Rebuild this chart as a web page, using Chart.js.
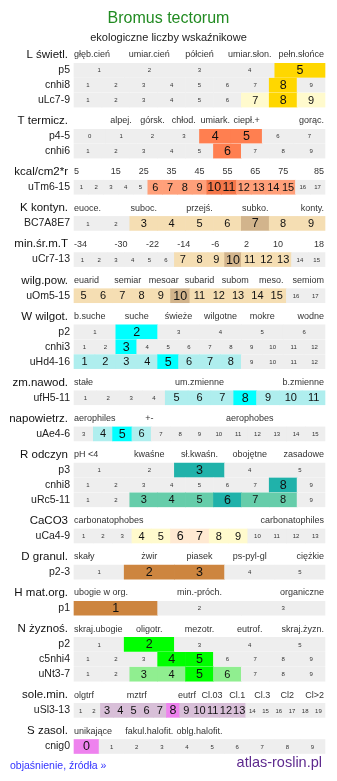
<!DOCTYPE html>
<html lang="pl">
<head>
<meta charset="utf-8">
<title>Bromus tectorum</title>
<script src="https://cdn.jsdelivr.net/npm/chart.js@4.4.1/dist/chart.umd.min.js"></script>
<style>
  html, body { margin: 0; padding: 0; background: #fff; }
  #wrap { width: 337px; height: 781px; }
</style>
</head>
<body>
<div id="wrap"><canvas id="ecoChart" width="337" height="781"></canvas></div>
<script>
/*
  Ekologiczne liczby wskaźnikowe - Bromus tectorum
  kazdy wiersz to pasek komorek (floating bars), podpisy rysuje plugin
*/

const speciesName = "Bromus tectorum";
const chartSubtitle = "ekologiczne liczby wskaźnikowe";

const groupNames = [
    "L świetl.", "T termicz.", "kcal/cm2*r", "K kontyn.", "min.śr.m.T",
    "wilg.pow.", "W wilgot.", "zm.nawod.", "napowietrz.", "R odczyn",
    "CaCO3", "D granul.", "H mat.org.", "N żyznoś.", "sole.min.", "S zasol."
];

// opisy skal nad wierszami ("" = pusta kolumna)
const lightTicks = ["głęb.cień", "umiar.cień", "półcień", "umiar.słon.", "pełn.słońce"];
const tempTicks = ["", "alpej.", "górsk.", "chłod.", "umiark.", "ciepł.+", "", "gorąc."];
const kcalTicks = ["5", "15", "25", "35", "45", "55", "65", "75", "85"];
const contTicks = ["euoce.", "", "suboc.", "", "przejś.", "", "subko.", "", "konty."];
const minTempTicks = ["-34", "-30", "-22", "-14", "-6", "2", "10", "18"];
const aridTicks = ["euarid", "semiar", "mesoar", "subarid", "subom", "meso.", "semiom"];
const moistTicks = ["b.suche", "suche", "świeże", "wilgotne", "mokre", "wodne"];
const waterTicks = ["stałe", "um.zmienne", "b.zmienne"];
const aerTicks = ["aerophiles", "+-", "", "aerophobes", ""];
const phTicks = ["pH <4", "kwaśne", "sł.kwaśn.", "obojętne", "zasadowe"];
const caTicks = ["carbonatophobes", "carbonatophiles"];
const grainTicks = ["skały", "żwir", "piasek", "ps-pyl-gl", "ciężkie"];
const humusTicks = ["ubogie w org.", "min.-próch.", "organiczne"];
const nutrTicks = ["skraj.ubogie", "oligotr.", "mezotr.", "eutrof.", "skraj.żyzn."];
const saltMinTicks = ["olgtrf", "", "mztrf", "", "eutrf", "Cl.03", "Cl.1", "Cl.3", "Cl2", "Cl>2"];
const salinityTicks = ["unikające", "fakul.halofit.", "oblg.halofit.", "", ""];

const groupTicks = [
    lightTicks, tempTicks, kcalTicks, contTicks, minTempTicks, aridTicks,
    moistTicks, waterTicks, aerTicks, phTicks, caTicks, grainTicks,
    humusTicks, nutrTicks, saltMinTicks, salinityTicks
];

// wiersze
const rowNames = [
    "p5", "cnhi8", "uLc7-9", "p4-5", "cnhi6", "uTm6-15", "BC7A8E7", "uCr7-13",
    "uOm5-15", "p2", "cnhi3", "uHd4-16", "ufH5-11", "uAe4-6", "p3", "cnhi8",
    "uRc5-11", "uCa4-9", "p2-3", "p1", "p2", "c5nhi4", "uNt3-7", "uSl3-13", "cnig0"
];
const rowGroup = [0, 0, 0, 1, 1, 2, 3, 4, 5, 6, 6, 6, 7, 8, 9, 9, 9, 10, 11, 12, 13, 13, 13, 14, 15];

const rowCells = [
    [1, 2, 3, 4, 5],
    [1, 2, 3, 4, 5, 6, 7, 8, 9],
    [1, 2, 3, 4, 5, 6, 7, 8, 9],
    [0, 1, 2, 3, 4, 5, 6, 7],
    [1, 2, 3, 4, 5, 6, 7, 8, 9],
    [1, 2, 3, 4, 5, 6, 7, 8, 9, 10, 11, 12, 13, 14, 15, 16, 17],
    [1, 2, 3, 4, 5, 6, 7, 8, 9],
    [1, 2, 3, 4, 5, 6, 7, 8, 9, 10, 11, 12, 13, 14, 15],
    [5, 6, 7, 8, 9, 10, 11, 12, 13, 14, 15, 16, 17],
    [1, 2, 3, 4, 5, 6],
    [1, 2, 3, 4, 5, 6, 7, 8, 9, 10, 11, 12],
    [1, 2, 3, 4, 5, 6, 7, 8, 9, 10, 11, 12],
    [1, 2, 3, 4, 5, 6, 7, 8, 9, 10, 11],
    [3, 4, 5, 6, 7, 8, 9, 10, 11, 12, 13, 14, 15],
    [1, 2, 3, 4, 5],
    [1, 2, 3, 4, 5, 6, 7, 8, 9],
    [1, 2, 3, 4, 5, 6, 7, 8, 9],
    [1, 2, 3, 4, 5, 6, 7, 8, 9, 10, 11, 12, 13],
    [1, 2, 3, 4, 5],
    [1, 2, 3],
    [1, 2, 3, 4, 5],
    [1, 2, 3, 4, 5, 6, 7, 8, 9],
    [1, 2, 3, 4, 5, 6, 7, 8, 9],
    [1, 2, 3, 4, 5, 6, 7, 8, 9, 10, 11, 12, 13, 14, 15, 16, 17, 18, 19],
    [0, 1, 2, 3, 4, 5, 6, 7, 8, 9]
];

// wartosc glowna (ciemne pole)
const rowMain = [
    [5], [8], [8], [4, 5], [6], [10, 11], [7], [10], [10], [2], [3], [5],
    [8], [5], [3], [8], [6], [6, 7], [2, 3], [1], [2], [4, 5], [5], [8], [0]
];

// zakres (jasne pole)
const rowRange = [
    [], [], [7, 9], [], [], [6, 7, 8, 9, 12, 13, 14, 15], [3, 4, 5, 6, 8, 9],
    [7, 8, 9, 11, 12, 13], [5, 6, 7, 8, 9, 11, 12, 13, 14, 15], [], [],
    [1, 2, 3, 4, 6, 7, 8], [5, 6, 7, 9, 10, 11], [4, 6], [], [], [3, 4, 5, 7, 8],
    [4, 5, 8, 9], [], [], [], [], [3, 4, 6], [3, 4, 5, 6, 7, 9, 10, 11, 12, 13], []
];

/* ---------- style ---------- */

const FONT = "'Liberation Sans', Arial, sans-serif";
const EMPTY_COLOR = "#eeeeee";

const mainColors = [
    "#ffd700", "#ff7f50", "#f4774a", "#d2b48c", "#d2b48c", "#d2b48c",
    "#00ffff", "#00ffff", "#00ffff", "#20b2aa", "#ffe9d2", "#cd853f",
    "#cd853f", "#00ff00", "#ee82ee", "#ee82ee"
];
const rangeColors = [
    "#fffacd", "#ffa07a", "#ffa07a", "#f5deb3", "#f5deb3", "#f5deb3",
    "#afeeee", "#afeeee", "#afeeee", "#66cdaa", "#fffacd", "#cd853f",
    "#cd853f", "#90ee90", "#d8bfd8", "#d8bfd8"
];

const GROUP_GAP = 0.4;
const HEADER_STEP = 1.03;

/* ---------- pozycje wierszy (w jednostkach osi y) ---------- */

const groupY = [];
const rowY = [];

let pos = 0;

groupNames.forEach((name, g) => {

    groupY.push(pos);
    pos += HEADER_STEP;

    rowGroup.forEach((rg, r) => {
        if (rg === g) {
            rowY[r] = pos;
            pos += 1;
        }
    });

    pos += GROUP_GAP;

});

const lastRowY = rowY[rowY.length - 1];

/* ---------- komorki ---------- */

const cells = [];

rowCells.forEach((values, r) => {

    const n = values.length;

    values.forEach((v, i) => {

        let level = 0;
        if (rowRange[r].includes(v)) level = 1;
        if (rowMain[r].includes(v)) level = 2;

        cells.push({
            x: [i / n, (i + 1) / n],
            y: rowY[r],
            value: v,
            level: level,
            group: rowGroup[r]
        });

    });

});

/* ---------- plugin z podpisami ---------- */

const labelPlugin = {

    id: "ecoLabels",

    afterDatasetsDraw(chart) {

        const ctx = chart.ctx;
        const xs = chart.scales.x;
        const ys = chart.scales.y;

        ctx.save();
        ctx.textBaseline = "middle";

        // liczby w komorkach
        const meta = chart.getDatasetMeta(0);

        meta.data.forEach((bar, i) => {

            const c = cells[i];
            const size = c.level === 2 ? 12.5 : (c.level === 1 ? 11 : 6);

            ctx.font = size + "px " + FONT;
            ctx.fillStyle = c.level ? "#111" : "#333";
            ctx.textAlign = "center";
            ctx.fillText(String(c.value), (bar.x + bar.base) / 2, bar.y + 0.5);

        });

        // naglowki grup i opisy skal
        groupNames.forEach((name, g) => {

            const y = ys.getPixelForValue(groupY[g]);

            ctx.font = "11.5px " + FONT;
            ctx.fillStyle = "#111";
            ctx.textAlign = "right";
            ctx.fillText(name, xs.left - 6, y);

            const ticks = groupTicks[g];
            const n = ticks.length;

            ctx.font = "9px " + FONT;
            ctx.fillStyle = "#333";

            ticks.forEach((t, i) => {

                if (!t) return;

                if (i === 0) {
                    ctx.textAlign = "left";
                    ctx.fillText(t, xs.left, y);
                } else if (i === n - 1) {
                    ctx.textAlign = "right";
                    ctx.fillText(t, xs.right - 1, y);
                } else {
                    ctx.textAlign = "center";
                    ctx.fillText(t, xs.getPixelForValue((i + 0.5) / n), y);
                }

            });

        });

        // nazwy wierszy
        ctx.font = "10.5px " + FONT;
        ctx.fillStyle = "#222";
        ctx.textAlign = "right";

        rowNames.forEach((name, r) => {
            ctx.fillText(name, xs.left - 4, ys.getPixelForValue(rowY[r]));
        });

        // tytul
        ctx.textAlign = "center";
        ctx.font = "16px " + FONT;
        ctx.fillStyle = "#228b22";
        ctx.fillText(speciesName, chart.width / 2, 19);

        ctx.font = "11px " + FONT;
        ctx.fillStyle = "#222";
        ctx.fillText(chartSubtitle, chart.width / 2, 38);

        // stopka
        ctx.textAlign = "left";
        ctx.font = "10.5px " + FONT;
        ctx.fillStyle = "#3333ff";
        ctx.fillText("objaśnienie, źródła »", 10, 766);

        ctx.textAlign = "right";
        ctx.font = "14.5px " + FONT;
        ctx.fillStyle = "#5e2a8e";
        ctx.fillText("atlas-roslin.pl", 322, 763);

        ctx.restore();

    }

};

/* ---------- wykres ---------- */

const ecoChart = new Chart(document.getElementById("ecoChart"), {

    type: "bar",

    data: {
        datasets: [
            {
                data: cells,
                backgroundColor: (c) => {
                    const cell = c.raw;
                    if (!cell) return EMPTY_COLOR;
                    if (cell.level === 2) return mainColors[cell.group];
                    if (cell.level === 1) return rangeColors[cell.group];
                    return EMPTY_COLOR;
                },
                borderWidth: 0,
                barThickness: 14,
                grouped: false,
                clip: false
            }
        ]
    },

    options: {

        indexAxis: "y",

        responsive: false,

        animation: false,

        layout: {
            padding: { left: 74, right: 12, top: 55, bottom: 34.5 }
        },

        scales: {
            x: { type: "linear", min: 0, max: 1, offset: false, display: false },
            y: { type: "linear", min: 0, max: lastRowY, reverse: true, offset: false, display: false }
        },

        plugins: {
            legend: { display: false },
            tooltip: { enabled: false },
            title: { display: false }
        }

    },

    plugins: [labelPlugin]

});
</script>
</body>
</html>
